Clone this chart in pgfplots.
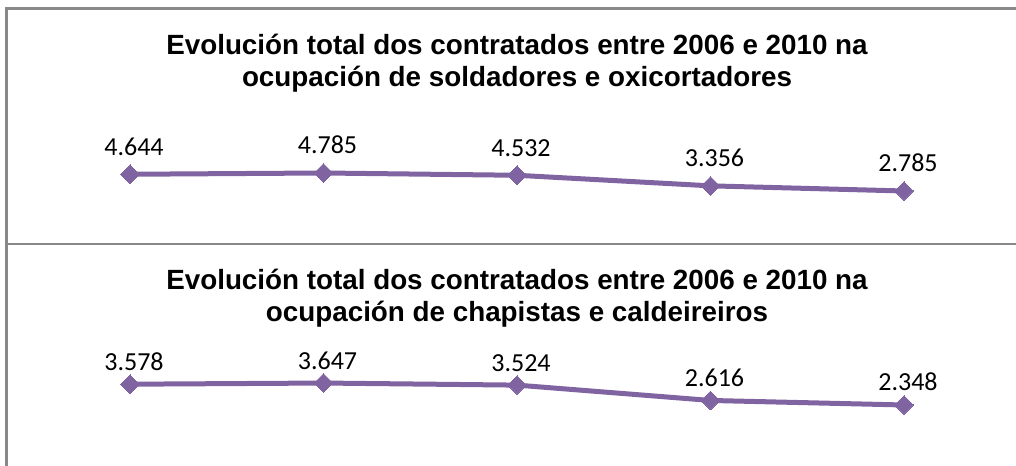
\documentclass[border=0pt]{standalone}
\usepackage{pgfplots}
\pgfplotsset{compat=1.18}
\usepackage{fontspec}
\setmainfont{Carlito}
\newfontfamily\arialf{Liberation Sans}
\definecolor{linep}{HTML}{8064A2}
\definecolor{frameg}{HTML}{898989}
\begin{document}
\begin{tikzpicture}[x=1bp,y=1bp]
\path[use as bounding box] (0,0) rectangle (1016,466);
% frame
\draw[frameg, line width=2.2bp] (6.5,0) -- (6.5,457.5) -- (1016,457.5);
\draw[frameg, line width=2.2bp] (6.5,222) -- (1016,222);
% titles
\node[anchor=base, font=\arialf\bfseries\fontsize{27.8bp}{32bp}\selectfont, inner sep=0] at (517,411.7) {Evolución total dos contratados entre 2006 e 2010 na};
\node[anchor=base, font=\arialf\bfseries\fontsize{27.8bp}{32bp}\selectfont, inner sep=0] at (517,379) {ocupación de soldadores e oxicortadores};
\node[anchor=base, font=\arialf\bfseries\fontsize{27.8bp}{32bp}\selectfont, inner sep=0] at (517,176.7) {Evolución total dos contratados entre 2006 e 2010 na};
\node[anchor=base, font=\arialf\bfseries\fontsize{27.8bp}{32bp}\selectfont, inner sep=0] at (517,144.3) {ocupación de chapistas e caldeireiros};
% top chart
\begin{axis}[at={(130bp,267.93bp)}, anchor=south west, scale only axis,
  width=774bp, height=27bp, xmin=0, xmax=4, ymin=2, ymax=5,
  hide axis, clip=false,
  point meta=explicit symbolic,
  nodes near coords,
  nodes near coords style={anchor=base, yshift=19bp, xshift=4bp, font=\fontsize{26bp}{30bp}\selectfont, inner sep=0, text=black}]
\addplot[linep, line width=5bp, mark=square*, mark size=6.6bp, mark options={rotate=45, solid, fill=linep, draw=linep, line width=0pt}]
  coordinates {(0,4.644) [4.644] (1,4.785) [4.785] (2,4.532) [4.532] (3,3.356) [3.356] (4,2.785) [2.785]};
\end{axis}
% bottom chart
\begin{axis}[at={(130bp,55.12bp)}, anchor=south west, scale only axis,
  width=774bp, height=33.8bp, xmin=0, xmax=4, ymin=2, ymax=4,
  hide axis, clip=false,
  point meta=explicit symbolic,
  nodes near coords,
  nodes near coords style={anchor=base, yshift=14bp, xshift=4bp, font=\fontsize{26bp}{30bp}\selectfont, inner sep=0, text=black}]
\addplot[linep, line width=5bp, mark=square*, mark size=6.6bp, mark options={rotate=45, solid, fill=linep, draw=linep, line width=0pt}]
  coordinates {(0,3.578) [3.578] (1,3.647) [3.647] (2,3.524) [3.524] (3,2.616) [2.616] (4,2.348) [2.348]};
\end{axis}
\end{tikzpicture}
\end{document}
